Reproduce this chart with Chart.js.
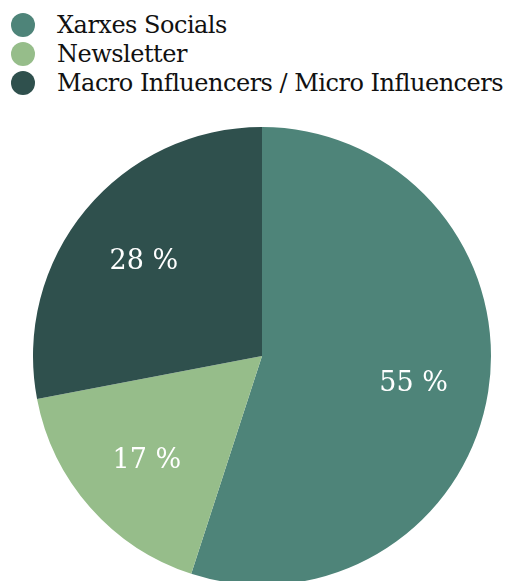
<!DOCTYPE html>
<html>
<head>
<meta charset="utf-8">
<script src="https://cdn.jsdelivr.net/npm/chart.js@4/dist/chart.umd.min.js"></script>
<style>
  html, body { margin: 0; padding: 0; width: 512px; height: 581px; overflow: hidden; background: #fff; }
  #legend { position: absolute; left: 11px; top: 10px; font-family: "DejaVu Serif", serif; font-size: 24px; letter-spacing: -0.5px; color: #111; }
  #legend .row { display: flex; align-items: center; height: 29px; white-space: nowrap; }
  #legend .dot { width: 24px; height: 24px; border-radius: 50%; margin-right: 22px; flex: none; }
  #wrap { position: absolute; left: 33px; top: 127px; width: 458px; height: 458px; }
</style>
</head>
<body>
<div id="legend"></div>
<div id="wrap"><canvas id="c"></canvas></div>
<script>
const categories = ["Xarxes Socials", "Newsletter", "Macro Influencers / Micro Influencers"];
const shares = [55, 17, 28];
const colors = ["#4E8479", "#96BD8A", "#2F504D"];

// Percentage labels placed at the middle of each slice
const sliceLabels = {
  id: "sliceLabels",
  afterDatasetsDraw(chart) {
    const ctx = chart.ctx;
    const meta = chart.getDatasetMeta(0);
    ctx.save();
    ctx.fillStyle = "#ffffff";
    ctx.font = '27px "DejaVu Serif", serif';
    ctx.textAlign = "center";
    ctx.textBaseline = "middle";
    meta.data.forEach((arc, i) => {
      const mid = (arc.startAngle + arc.endAngle) / 2;
      const r = arc.outerRadius * 0.67;
      ctx.fillText(shares[i] + " %", arc.x + Math.cos(mid) * r, arc.y + Math.sin(mid) * r + 4);
    });
    ctx.restore();
  }
};

const chart = new Chart(document.getElementById("c"), {
  type: "pie",
  data: {
    labels: categories,
    datasets: [{ data: shares, backgroundColor: colors, borderWidth: 0 }]
  },
  options: {
    responsive: true,
    maintainAspectRatio: false,
    animation: false,
    layout: { padding: 0 },
    plugins: { legend: { display: false }, tooltip: { enabled: false } }
  },
  plugins: [sliceLabels]
});

// Legend built from the chart's own legend items
const legendEl = document.getElementById("legend");
chart.options.plugins.legend.labels.generateLabels(chart).forEach(item => {
  const row = document.createElement("div");
  row.className = "row";
  const dot = document.createElement("span");
  dot.className = "dot";
  dot.style.background = item.fillStyle;
  const txt = document.createElement("span");
  txt.textContent = item.text;
  row.appendChild(dot);
  row.appendChild(txt);
  legendEl.appendChild(row);
});
</script>
</body>
</html>
